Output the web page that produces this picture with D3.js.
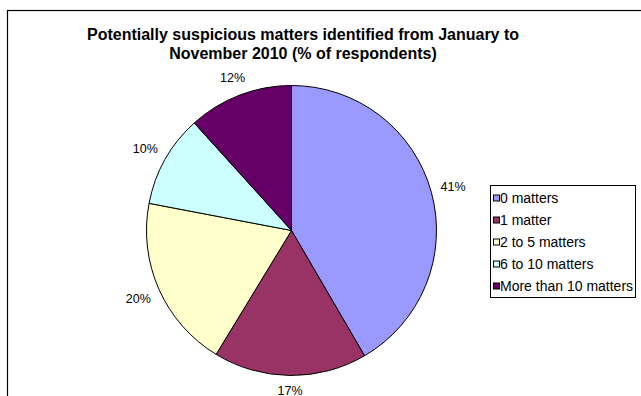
<!DOCTYPE html>
<html>
<head>
<meta charset="utf-8">
<script src="https://cdn.jsdelivr.net/npm/d3@7"></script>
<style>
  html, body { margin: 0; padding: 0; background: #ffffff; }
  svg { display: block; font-family: "Liberation Sans", Arial, sans-serif; }
</style>
</head>
<body>
<svg id="chart" width="641" height="396"></svg>
<script>
// ---- data ----
const categories = ["0 matters", "1 matter", "2 to 5 matters", "6 to 10 matters", "More than 10 matters"];
const values = [41.6, 17.1, 19.3, 10.3, 11.7];
const valueLabels = ["41%", "17%", "20%", "10%", "12%"];
const colors = ["#9999FF", "#993366", "#FFFFCC", "#CCFFFF", "#660066"];
const titleLines = ["Potentially suspicious matters identified from January to", "November 2010 (% of respondents)"];

const svg = d3.select("#chart");

// outer frame (cropped at right/bottom)
svg.append("rect")
  .attr("x", 7.5).attr("y", 10.5)
  .attr("width", 700).attr("height", 500)
  .attr("fill", "#fff").attr("stroke", "#000").attr("stroke-width", 1.2);

// title
svg.append("g").selectAll("text").data(titleLines).join("text")
  .attr("x", 303).attr("y", (d, i) => 40 + i * 19)
  .attr("text-anchor", "middle")
  .attr("font-size", 16).attr("font-weight", "bold").attr("fill", "#000")
  .text(d => d);

// pie
const cx = 291.5, cy = 230.5, R = 145;
const data = categories.map((c, i) => ({ cat: c, value: values[i], label: valueLabels[i], color: colors[i] }));
const pie = d3.pie().sort(null).value(d => d.value);
const arcs = pie(data);
const arc = d3.arc().innerRadius(0).outerRadius(R);

const g = svg.append("g").attr("transform", `translate(${cx},${cy})`);
g.selectAll("path").data(arcs).join("path")
  .attr("d", arc)
  .attr("fill", d => d.data.color)
  .attr("stroke", "#000").attr("stroke-width", 1);

// labels: box placed just outside the circle at the slice's mid angle
const gap = 7.5, hw = 13.5, hh = 7;
g.selectAll("text").data(arcs).join("text")
  .attr("transform", d => {
    const a = (d.startAngle + d.endAngle) / 2;
    const s = Math.sin(a), c = Math.cos(a);
    const dist = R + gap + hw * Math.abs(s) + hh * Math.abs(c);
    return `translate(${dist * s},${-dist * c})`;
  })
  .attr("text-anchor", "middle")
  .attr("dy", "0.36em")
  .attr("font-size", 12.5).attr("fill", "#000")
  .text(d => d.data.label);

// legend
const lg = svg.append("g");
lg.append("rect")
  .attr("x", 490.5).attr("y", 185.5).attr("width", 145).attr("height", 112)
  .attr("fill", "#fff").attr("stroke", "#000").attr("stroke-width", 1);
const items = lg.selectAll("g.item").data(data).join("g")
  .attr("class", "item")
  .attr("transform", (d, i) => `translate(493, ${197.5 + i * 22})`);
items.append("rect")
  .attr("x", 0.5).attr("y", -2.5).attr("width", 6).attr("height", 6)
  .attr("fill", d => d.color).attr("stroke", "#000").attr("stroke-width", 1);
items.append("text")
  .attr("x", 7).attr("y", 0).attr("dy", "0.36em")
  .attr("font-size", 14).attr("fill", "#000")
  .text(d => d.cat);
</script>
</body>
</html>
